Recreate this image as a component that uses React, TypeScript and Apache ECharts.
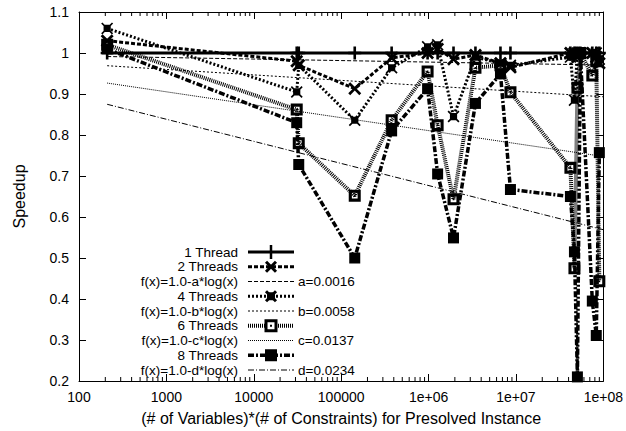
import React, { useEffect, useRef } from 'react';
import * as echarts from 'echarts';

// Instance size (# of variables * # of constraints), shared by all thread counts
const instanceSize = [210, 31000, 32700, 143000, 378000, 975000, 1270000, 1930000, 3440000, 6650000, 8650000, 42000000, 46700000, 50500000, 54600000, 74800000, 83000000, 90000000];
const speedup1 = [1, 1, 1, 1, 1, 1, 1, 1, 1, 1, 1, 1, 1, 1, 1, 1, 1, 1];
const speedup2 = [1.03, 0.98, 0.97, 0.913, 0.988, 1.0, 1.01, 0.985, 0.995, 0.975, 0.965, 1.0, 1.0, 0.99, 1.0, 1.0, 0.99, 0.975];
const speedup4 = [1.06, 0.905, 0.97, 0.836, 0.964, 1.015, 1.02, 0.845, 0.99, 0.975, 0.97, 0.99, 0.885, 1.0, 1.0, 1.0, 1.0, 0.985];
const speedup6 = [1.02, 0.862, 0.78, 0.652, 0.836, 0.955, 0.824, 0.643, 0.964, 0.97, 0.904, 0.72, 0.475, 0.915, 1.0, 0.945, 0.98, 0.443];
const speedup8 = [1.01, 0.83, 0.728, 0.5, 0.81, 0.913, 0.705, 0.549, 0.877, 0.949, 0.667, 0.65, 0.515, 0.21, 1.0, 0.395, 0.311, 0.757];

// Fitted curves f(x)=1.0-k*log(x), endpoints
const fitX = [210, 1e8];
const fitA = [0.9914, 0.9705];
const fitB = [0.969, 0.8932];
const fitC = [0.9267, 0.7476];
const fitD = [0.8749, 0.569];
const fitLabels = ['a=0.0016', 'b=0.0058', 'c=0.0137', 'd=0.0234'];

const xTickLabels = ['100', '1000', '10000', '100000', '1e+06', '1e+07', '1e+08'];
const decades = [100, 1000, 10000, 100000, 1e6, 1e7];
const minorMultipliers = [2, 3, 4, 5, 6, 7, 8, 9];

const legendLabels = ['1 Thread', '2 Threads', 'f(x)=1.0-a*log(x)', '4 Threads', 'f(x)=1.0-b*log(x)', '6 Threads', 'f(x)=1.0-c*log(x)', '8 Threads', 'f(x)=1.0-d*log(x)'];

const FONT = '"Liberation Sans", Arial, Helvetica, sans-serif';

const SYM_PLUS = 'path://M4,0 L6,0 L6,4 L10,4 L10,6 L6,6 L6,10 L4,10 L4,6 L0,6 L0,4 L4,4 Z';
const SYM_X = 'path://M0,1.5 L1.5,0 L5,3.5 L8.5,0 L10,1.5 L6.5,5 L10,8.5 L8.5,10 L5,6.5 L1.5,10 L0,8.5 L3.5,5 Z';
const SYM_FUZZY = 'path://M0,1 L1,0 L5,4 L9,0 L10,1 L6,5 L10,9 L9,10 L5,6 L1,10 L0,9 L4,5 Z M2,2 L8,2 L8,8 L2,8 Z';
const SYM_OPEN = 'path://M0,0 L10,0 L10,10 L0,10 Z M2.6,2.6 L2.6,7.4 L7.4,7.4 L7.4,2.6 Z M4.3,4.3 L5.7,4.3 L5.7,5.7 L4.3,5.7 Z';

const zip = (xs: number[], ys: number[]) => xs.map((x, i) => [x, ys[i]]);

export default function App() {
  const ref = useRef<HTMLDivElement>(null);
  useEffect(() => {
    if (!ref.current) return;
    const chart = echarts.init(ref.current, null, { renderer: 'svg' });

    const minorTicks: number[][] = [];
    decades.forEach((d) => minorMultipliers.forEach((m) => minorTicks.push([d * m, 0.2])));

    const lineSeries = (name: string, ys: number[], width: number, dash: any, symbol: string, size: number, z: number) => ({
      name,
      type: 'line',
      data: zip(instanceSize, ys),
      symbol,
      symbolSize: size,
      showSymbol: true,
      showAllSymbol: true,
      z,
      lineStyle: { color: '#000', width, type: dash },
      itemStyle: { color: '#000' },
    });
    const fitSeries = (name: string, ys: number[], dash: any) => ({
      name,
      type: 'line',
      data: zip(fitX, ys),
      showSymbol: false,
      symbol: 'none',
      z: 1,
      lineStyle: { color: '#000', width: 1, type: dash },
    });

    // legend via graphic
    const rowTop = 252, rowStep = 14.75;
    const rowsY = legendLabels.map((_, i) => rowTop + i * rowStep);
    const lx1 = 248, lx2 = 294, mx = 271;
    const dashes: any[] = [null, [4, 2], [4, 2], [2, 2], [2, 2], [1, 1], [1, 1], [6, 2, 2, 2], [6, 2, 1, 2]];
    const widths = [3, 3, 1, 3, 1, 4, 1, 3.5, 1];
    const g: any[] = [];
    const textStyle = (t: string, x: number, y: number, align: string) => ({
      text: t, x, y, fill: '#000', font: '13.5px ' + FONT, fontSize: 13.5, fontFamily: FONT, lineHeight: 13,
      align, textAlign: align, verticalAlign: 'middle', textVerticalAlign: 'middle',
    });
    legendLabels.forEach((t, i) => {
      const y = rowsY[i];
      g.push({ type: 'text', z: 100, style: textStyle(t, 238, y, 'right') });
      g.push({ type: 'line', z: 100, shape: { x1: lx1, y1: y, x2: lx2, y2: y }, style: { stroke: '#000', lineWidth: widths[i], lineDash: dashes[i] || undefined } });
    });
    fitLabels.forEach((t, k) => {
      const y = rowsY[2 + 2 * k];
      g.push({ type: 'text', z: 100, style: textStyle(t, 298, y, 'left') });
    });
    // markers
    g.push({ type: 'line', z: 101, shape: { x1: mx, y1: rowsY[0] - 7, x2: mx, y2: rowsY[0] + 7 }, style: { stroke: '#000', lineWidth: 2.5 } });
    [[-5, -5, 5, 5], [-5, 5, 5, -5]].forEach(([a, b, c, d]) => {
      g.push({ type: 'line', z: 101, shape: { x1: mx + a, y1: rowsY[1] + b, x2: mx + c, y2: rowsY[1] + d }, style: { stroke: '#000', lineWidth: 3 } });
      g.push({ type: 'line', z: 101, shape: { x1: mx + a, y1: rowsY[3] + b, x2: mx + c, y2: rowsY[3] + d }, style: { stroke: '#000', lineWidth: 3 } });
    });
    g.push({ type: 'rect', z: 101, shape: { x: mx - 4, y: rowsY[3] - 4, width: 8, height: 8 }, style: { fill: '#000' } });
    g.push({ type: 'rect', z: 101, shape: { x: mx - 5, y: rowsY[5] - 5, width: 10, height: 10 }, style: { fill: '#fff', stroke: '#000', lineWidth: 3 } });
    g.push({ type: 'rect', z: 102, shape: { x: mx - 1, y: rowsY[5] - 1, width: 2, height: 2 }, style: { fill: '#000' } });
    g.push({ type: 'rect', z: 101, shape: { x: mx - 6, y: rowsY[7] - 6, width: 12, height: 12 }, style: { fill: '#000' } });

    const xAxisBase = {
      type: 'log',
      logBase: 10,
      min: 100,
      max: 1e8,
      splitLine: { show: false },
      axisLine: { show: true, lineStyle: { color: '#000', width: 1 } },
      axisTick: { show: true, inside: true, length: 7, lineStyle: { color: '#000', width: 1 } },
    };
    const yAxisBase = {
      type: 'value',
      min: 0.2,
      max: 1.1,
      interval: 0.1,
      splitLine: { show: false },
      axisLine: { show: true, lineStyle: { color: '#000', width: 1 } },
      axisTick: { show: true, inside: true, length: 7, lineStyle: { color: '#000', width: 1 } },
    };

    chart.setOption({
      animation: false,
      backgroundColor: '#fff',
      grid: { left: 79, right: 21, top: 12, bottom: 48, containLabel: false },
      xAxis: [
        {
          ...xAxisBase,
          position: 'bottom',
          name: '(# of Variables)*(# of Constraints) for Presolved Instance',
          nameLocation: 'middle',
          nameGap: 29,
          nameTextStyle: { color: '#000', fontSize: 16, fontFamily: FONT },
          axisLabel: {
            color: '#000',
            fontSize: 14,
            fontFamily: FONT,
            margin: 9,
            formatter: (v: number) => xTickLabels[Math.round(Math.log10(v)) - 2] ?? '',
          },
        },
        { ...xAxisBase, position: 'top', axisLabel: { show: false } },
      ],
      yAxis: [
        {
          ...yAxisBase,
          position: 'left',
          name: 'Speedup',
          nameLocation: 'middle',
          nameGap: 52,
          nameTextStyle: { color: '#000', fontSize: 16, fontFamily: FONT },
          axisLabel: {
            color: '#000',
            fontSize: 14,
            fontFamily: FONT,
            margin: 10,
            formatter: (v: number) => String(Math.round(v * 10) / 10),
          },
        },
        { ...yAxisBase, position: 'right', axisLabel: { show: false } },
      ],
      graphic: g,
      series: [
        {
          type: 'custom',
          silent: true,
          xAxisIndex: 0,
          yAxisIndex: 0,
          data: minorTicks,
          encode: { x: 0, y: 1 },
          z: 0,
          renderItem: (_p: any, api: any) => {
            const x = api.value(0);
            const pb = api.coord([x, 0.2]);
            const pt = api.coord([x, 1.1]);
            return {
              type: 'group',
              children: [
                { type: 'line', shape: { x1: pb[0], y1: pb[1], x2: pb[0], y2: pb[1] - 4 }, style: { stroke: '#000', lineWidth: 1 } },
                { type: 'line', shape: { x1: pt[0], y1: pt[1], x2: pt[0], y2: pt[1] + 4 }, style: { stroke: '#000', lineWidth: 1 } },
              ],
            };
          },
        },
        lineSeries('1 Thread', speedup1, 3, 'solid', SYM_PLUS, 13, 2),
        lineSeries('2 Threads', speedup2, 3, [4, 2], SYM_X, 13, 3),
        fitSeries('fit a', fitA, [4, 2]),
        lineSeries('4 Threads', speedup4, 3, [2, 2], SYM_FUZZY, 12, 4),
        fitSeries('fit b', fitB, [2, 2]),
        lineSeries('6 Threads', speedup6, 4, [1, 1], SYM_OPEN, 12, 5),
        fitSeries('fit c', fitC, [1, 1]),
        lineSeries('8 Threads', speedup8, 3.5, [6, 2, 2, 2], 'rect', 11, 6),
        fitSeries('fit d', fitD, [6, 2, 1, 2]),
      ],
    });
    return () => chart.dispose();
  }, []);
  return <div ref={ref} style={{ position: 'fixed', left: 0, top: 0, width: 626, height: 431 }} />;
}
